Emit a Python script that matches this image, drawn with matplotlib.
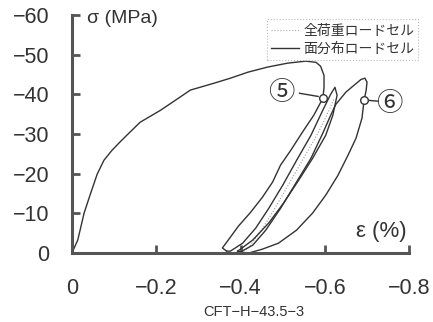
import numpy as np
import matplotlib.pyplot as plt
from matplotlib.lines import Line2D

plt.rcParams['font.family'] = ['Liberation Sans', 'Noto Sans CJK JP', 'DejaVu Sans']

# 面分布ロードセル (solid): envelope up to point 5
env_eps = [0, -0.014, -0.029, -0.043, -0.060, -0.076, -0.095, -0.114, -0.133, -0.162,
           -0.210, -0.245, -0.281, -0.336, -0.376, -0.417, -0.464, -0.512, -0.555,
           -0.579, -0.590, -0.598, -0.598, -0.595]
env_sig = [0, -3.3, -10.1, -14.6, -19.9, -23.4, -25.9, -28.0, -30.0, -33.0,
           -36.0, -38.5, -41.1, -42.8, -44.1, -45.6, -46.9, -47.9, -48.4,
           -48.1, -47.1, -44.8, -41.6, -39.0]

# unloading from point 5
unl1_eps = [-0.595, -0.574, -0.550, -0.519, -0.495, -0.476, -0.452, -0.424, -0.395,
            -0.371, -0.357, -0.367]
unl1_sig = [-39.0, -34.8, -31.0, -25.9, -22.2, -17.9, -14.1, -10.3, -6.8,
            -3.3, -1.3, -0.5]

# reloading to small peak, then unloading
rel1_eps = [-0.367, -0.376, -0.405, -0.436, -0.467, -0.500, -0.533, -0.567, -0.595,
            -0.614, -0.624, -0.629, -0.619, -0.602, -0.571, -0.538, -0.502, -0.467,
            -0.429, -0.400, -0.393]
rel1_sig = [-0.5, -0.5, -2.5, -6.3, -11.3, -17.1, -23.4, -29.7, -36.0,
            -40.1, -41.8, -39.8, -34.8, -29.7, -23.9, -18.4, -12.6, -7.6,
            -3.3, -1.0, -0.5]

# reloading to large peak, point 6, unloading
rel2_eps = [-0.393, -0.400, -0.429, -0.460, -0.495, -0.531, -0.567, -0.595, -0.614,
            -0.626, -0.650, -0.669, -0.686, -0.695, -0.700, -0.698, -0.693,
            -0.688, -0.674, -0.655, -0.631, -0.602, -0.571, -0.533, -0.490,
            -0.452, -0.419]
rel2_sig = [-0.5, -0.3, -2.0, -5.8, -11.3, -17.6, -23.9, -30.2, -34.8,
            -37.5, -40.6, -42.3, -43.8, -44.1, -43.1, -41.1, -38.5,
            -34.0, -29.0, -24.7, -19.6, -14.6, -10.1, -5.8, -2.5,
            -1.0, 0]

# 全荷重ロードセル (dotted)
tot_eps = [-0.407, -0.420, -0.445, -0.480, -0.515, -0.550, -0.585, -0.610, -0.622]
tot_sig = [-0.3, -1.5, -5.0, -11.0, -17.5, -24.0, -30.5, -36.0, -39.0]

pt_eps = [-0.595, -0.693]
pt_sig = [-39.0, -38.5]
pt_labels = ['⑤', '⑥']

fig = plt.figure(figsize=(4.33, 3.22), dpi=100)
ax = fig.add_axes([0.166, 0.214, 0.779, 0.739])

lc = '#333333'
ax.plot(tot_eps, tot_sig, color='#999999', lw=0.8, ls=':')
for e, s in [(env_eps, env_sig), (unl1_eps, unl1_sig), (rel1_eps, rel1_sig), (rel2_eps, rel2_sig)]:
    ax.plot(e, s, color=lc, lw=1.0)

# leader lines and labels for points 5, 6
ax.plot([-0.540, -0.584], [-40.3, -39.5], color=lc, lw=1.0)
ax.plot([-0.705, -0.726], [-38.5, -38.3], color=lc, lw=1.0)
ax.plot(pt_eps, pt_sig, 'o', ms=5.5, mfc='white', mec=lc, mew=1.0)
ax.text(-0.497, -40.6, pt_labels[0], fontsize=19, family='Noto Sans CJK JP',
        color='#333333', ha='center', va='center')
ax.text(-0.752, -37.8, pt_labels[1], fontsize=19, family='Noto Sans CJK JP',
        color='#333333', ha='center', va='center')

ax.set_xlim(0, -0.8)
ax.set_ylim(0, -60)
ax.set_xticks([0, -0.2, -0.4, -0.6, -0.8])
ax.set_xticklabels(['0', '\u22120.2', '\u22120.4', '\u22120.6', '\u22120.8'])
ax.set_yticks([0, -10, -20, -30, -40, -50, -60])
ax.set_yticklabels(['0', '\u221210', '\u221220', '\u221230', '\u221240', '\u221250', '\u221260'])

for side in ['top', 'right']:
    ax.spines[side].set_visible(False)
for side in ['left', 'bottom']:
    ax.spines[side].set_color('#555555')
    ax.spines[side].set_linewidth(2.2)
ax.tick_params(direction='in', length=6, width=2.0, color='#555555',
               labelsize=15.5, labelcolor='#333333')
ax.tick_params(axis='y', pad=16)
ax.tick_params(axis='x', pad=18)

ax.text(0.046, 0.985, 'σ (MPa)', transform=ax.transAxes, fontsize=14,
        color='#333333', ha='left', va='center')
ax.text(0.918, 0.09, 'ε (%)', transform=ax.transAxes, fontsize=16,
        color='#333333', ha='center', va='center')
fig.text(0.587, 0.032, 'CFT\u2212H\u221243.5\u22123', fontsize=10.5, color='#333333',
         ha='center', va='center')

handles = [Line2D([], [], color='#aaaaaa', lw=0.8, ls=':'),
           Line2D([], [], color=lc, lw=1.0)]
leg = fig.legend(handles, ['全荷重ロードセル', '面分布ロードセル'],
                 loc='upper right', bbox_to_anchor=(0.966, 0.94), borderaxespad=0,
                 prop={'family': 'Noto Sans CJK JP', 'size': 10},
                 handlelength=2.0, handletextpad=0.3, labelspacing=0.3,
                 borderpad=0.3, fancybox=False, framealpha=1)
leg.get_frame().set_edgecolor('#bbbbbb')
leg.get_frame().set_linestyle(':')
leg.get_frame().set_linewidth(0.8)
for t in leg.get_texts():
    t.set_color('#333333')

fig.savefig('out.png', dpi=100)
